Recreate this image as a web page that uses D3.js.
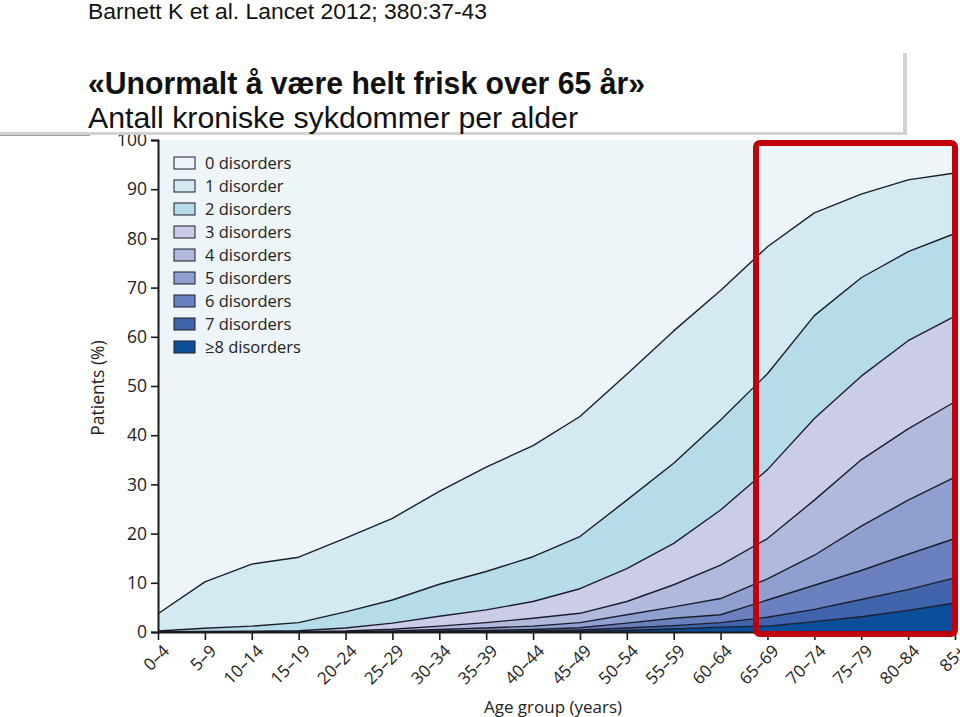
<!DOCTYPE html>
<html>
<head>
<meta charset="utf-8">
<script src="https://cdn.jsdelivr.net/npm/d3@7"></script>
<style>
  html, body { margin: 0; padding: 0; background: #fff; }
  svg { display: block; }
</style>
</head>
<body>
<svg id="chart" width="960" height="717"></svg>
<script>
// ---- Data (percent of patients by number of chronic disorders, per age group) ----
const ageGroups = ["0–4","5–9","10–14","15–19","20–24","25–29","30–34","35–39","40–44",
                   "45–49","50–54","55–59","60–64","65–69","70–74","75–79","80–84","85+"];
const categories = ["0 disorders","1 disorder","2 disorders","3 disorders","4 disorders",
                    "5 disorders","6 disorders","7 disorders","≥8 disorders"];
const d0 = [96.3,89.8,86.2,84.8,80.9,76.9,71.4,66.5,62.1,56.2,47.6,38.8,30.6,21.7,14.8,11.0,8.1,6.7];
const d1 = [3.5,9.45,12.6,13.3,15.0,16.6,18.9,21.2,22.6,24.4,25.6,26.9,26.3,25.8,20.9,17.0,14.6,12.3];
const d2 = [0.15,0.65,1.05,1.65,3.3,4.7,6.5,7.8,9.1,10.6,13.9,16.3,18.3,19.5,20.9,20.0,18.1,16.8];
const d3v = [0.05,0.08,0.1,0.17,0.6,1.25,2.0,2.6,3.4,5.0,6.7,8.4,11.2,14.0,16.6,17.0,17.9,17.4];
const d4 = [0,0.02,0.03,0.05,0.12,0.35,0.7,1.1,1.6,1.9,2.7,4.5,6.8,8.2,11.2,13.5,14.5,15.3];
const d5 = [0,0,0.02,0.02,0.05,0.12,0.3,0.5,0.7,1.05,1.7,2.3,3.3,4.3,6.1,9.0,11.0,12.5];
const d6 = [0,0,0,0.01,0.02,0.05,0.1,0.15,0.3,0.45,1.0,1.5,1.6,3.5,4.9,5.9,7.2,8.0];
const d7 = [0,0,0,0,0.01,0.02,0.05,0.1,0.1,0.25,0.5,0.7,0.9,1.8,2.5,3.5,4.2,5.1];
const d8 = [0,0,0,0,0,0.01,0.05,0.05,0.1,0.15,0.3,0.6,1.0,1.2,2.1,3.1,4.4,5.9];
const yTicks = [0,10,20,30,40,50,60,70,80,90,100];
const colors = ["#edf5f9","#d3eaf2","#b6dcea","#cbcde8","#b1b9dc","#8f9fcf","#6b80be","#4064ab","#0b4f9b"];

const seriesValues = [d0,d1,d2,d3v,d4,d5,d6,d7,d8];
const table = ageGroups.map((a,i) => {
  const row = {age: a};
  categories.forEach((c,k) => row[c] = seriesValues[k][i]);
  return row;
});

// ---- Layout ----
const svg = d3.select("#chart");
const x = d3.scalePoint().domain(ageGroups).range([158, 955]);
const y = d3.scaleLinear().domain([0,100]).range([632, 140]);

const stackKeys = categories.slice().reverse(); // bottom: ≥8 ... top: 0
const stacked = d3.stack().keys(stackKeys)(table);

const area = d3.area()
  .x(d => x(d.data.age))
  .y0(d => y(d[0]))
  .y1(d => y(Math.min(100, d[1])));
const line = d3.line()
  .x(d => x(d.data.age))
  .y(d => y(d[1]));

const colorOf = k => colors[categories.indexOf(k)];

const g = svg.append("g");
g.selectAll("path.layer").data(stacked).join("path")
  .attr("class","layer")
  .attr("d", d => {
    if (d.key === categories[0]) {
      return d3.area().x(p => x(p.data.age)).y0(p => y(p[0])).y1(y(100))(d);
    }
    return area(d);
  })
  .attr("fill", d => colorOf(d.key));

g.selectAll("path.bound").data(stacked.filter(s => s.key !== categories[0])).join("path")
  .attr("class","bound")
  .attr("d", line)
  .attr("fill","none")
  .attr("stroke","#1b1d2b")
  .attr("stroke-width",1.4)
  .attr("stroke-linejoin","round");

// ---- Axes ----
const font = "'Open Sans', 'DejaVu Sans', sans-serif";
const yAxis = svg.append("g").attr("transform","translate(158,0)")
  .call(d3.axisLeft(y).tickValues(yTicks).tickSize(7).tickPadding(4).tickFormat(d3.format("d")));
yAxis.select(".domain").attr("stroke","#1a1a1a").attr("stroke-width",2);
yAxis.selectAll(".tick line").attr("stroke","#1a1a1a").attr("stroke-width",1.6);
yAxis.selectAll(".tick text").attr("font-family",font).attr("font-size",17.5).attr("fill","#222");

const xAxis = svg.append("g").attr("transform","translate(0,632)")
  .call(d3.axisBottom(x).tickSize(8).tickSizeOuter(0));
xAxis.select(".domain").attr("stroke","#1a1a1a").attr("stroke-width",2.2);
xAxis.selectAll(".tick line").attr("stroke","#1a1a1a").attr("stroke-width",1.6);
xAxis.selectAll(".tick text")
  .attr("font-family",font).attr("font-size",17).attr("fill","#222")
  .attr("text-anchor","end")
  .attr("y",0).attr("dy",0)
  .attr("transform","translate(12,20) rotate(-45)");

svg.append("text")
  .attr("transform","translate(104,388) rotate(-90)")
  .attr("text-anchor","middle")
  .attr("font-family",font).attr("font-size",17.5).attr("fill","#222")
  .text("Patients (%)");
svg.append("text")
  .attr("x",553).attr("y",713)
  .attr("text-anchor","middle")
  .attr("font-family",font).attr("font-size",17).attr("fill","#222")
  .text("Age group (years)");

// ---- Legend ----
const legend = svg.append("g").attr("transform","translate(174,157)");
const rows = legend.selectAll("g").data(categories).join("g")
  .attr("transform",(d,i) => `translate(0,${i*23})`);
rows.append("rect").attr("width",21).attr("height",12)
  .attr("fill",(d,i) => colors[i]).attr("stroke","#1b1d2b").attr("stroke-width",1);
rows.append("text").attr("x",31).attr("y",12)
  .attr("font-family",font).attr("font-size",16.5).attr("fill","#222")
  .text(d => d);

// ---- Highlight box ----
svg.append("rect")
  .attr("x",756).attr("y",143).attr("width",199).attr("height",491)
  .attr("rx",4).attr("fill","none")
  .attr("stroke","#c0000c").attr("stroke-width",6);

// ---- Title box overlay ----
svg.append("rect").attr("x",0).attr("y",130).attr("width",90).attr("height",6).attr("fill","#a0a0a0");
svg.append("rect").attr("x",-10).attr("y",53).attr("width",917).attr("height",82).attr("fill","#d2d2d2");
svg.append("rect").attr("x",-10).attr("y",50).attr("width",913).attr("height",82).attr("fill","#ffffff");

const tfont = "'Liberation Sans', Arial, sans-serif";
svg.append("text").attr("x",88).attr("y",19)
  .attr("font-family",tfont).attr("font-size",22).attr("fill","#111")
  .attr("textLength",399).attr("lengthAdjust","spacingAndGlyphs")
  .text("Barnett K et al. Lancet 2012; 380:37-43");
svg.append("text").attr("x",88).attr("y",94)
  .attr("font-family",tfont).attr("font-size",31).attr("font-weight","bold").attr("fill","#111")
  .attr("textLength",557).attr("lengthAdjust","spacingAndGlyphs")
  .text("«Unormalt å være helt frisk over 65 år»");
svg.append("text").attr("x",88).attr("y",128)
  .attr("font-family",tfont).attr("font-size",30).attr("fill","#111")
  .attr("textLength",490).attr("lengthAdjust","spacingAndGlyphs")
  .text("Antall kroniske sykdommer per alder");
</script>
</body>
</html>
